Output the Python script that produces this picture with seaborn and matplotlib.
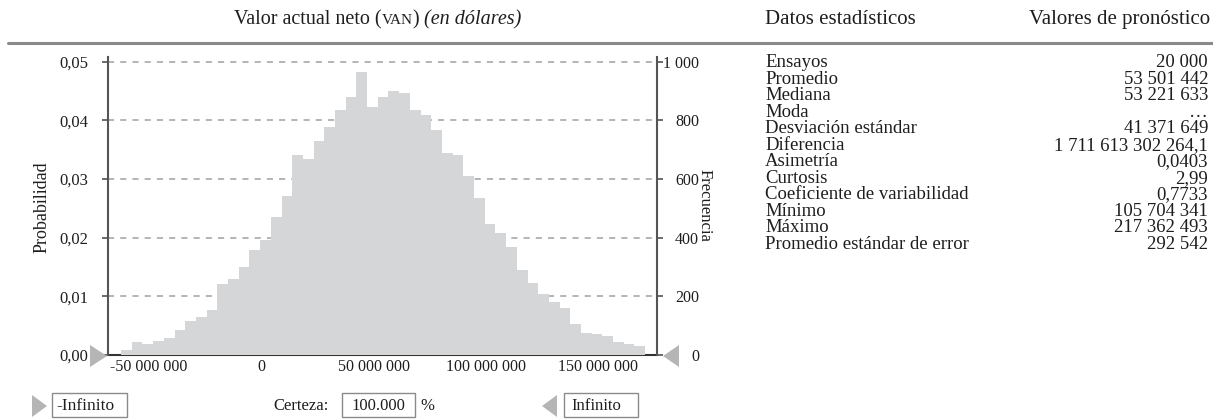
import numpy as np
import pandas as pd
import matplotlib
matplotlib.use("Agg")
import matplotlib.pyplot as plt
import seaborn as sns
from matplotlib.patches import Polygon, Rectangle
from matplotlib.lines import Line2D

# ---------------- data ----------------
frequencies = [18, 45, 37, 49, 58, 84, 116, 130, 153, 241, 259, 300, 359, 392,
               469, 542, 683, 667, 730, 778, 837, 880, 966, 846, 878, 901, 892,
               837, 818, 767, 690, 682, 611, 534, 446, 415, 367, 290, 244, 208,
               179, 161, 107, 76, 70, 65, 44, 37, 31]
bin_start = -62_500_000
bin_end = 170_800_000
trials = 20000

prob_ticks = [0.0, 0.01, 0.02, 0.03, 0.04, 0.05]
prob_labels = ["0,00", "0,01", "0,02", "0,03", "0,04", "0,05"]
freq_ticks = [0, 200, 400, 600, 800, 1000]
freq_labels = ["0", "200", "400", "600", "800", "1 000"]
x_ticks = [-50_000_000, 0, 50_000_000, 100_000_000, 150_000_000]
x_labels = ["-50 000 000", "0", "50 000 000", "100 000 000", "150 000 000"]

stat_names = ["Ensayos", "Promedio", "Mediana", "Moda", "Desviación estándar",
              "Diferencia", "Asimetría", "Curtosis", "Coeficiente de variabilidad",
              "Mínimo", "Máximo", "Promedio estándar de error"]
stat_values = ["20 000", "53 501 442", "53 221 633", "…", "41 371 649",
               "1 711 613 302 264,1", "0,0403", "2,99", "0,7733",
               "105 704 341", "217 362 493", "292 542"]

# ---------------- figure ----------------
sns.set_theme(style="white")
plt.rcParams["font.family"] = ["Liberation Serif", "DejaVu Serif"]
TXT = "#1e1e1e"

W, H = 1213, 420
fig = plt.figure(figsize=(W / 100, H / 100), dpi=100)


def fx(px):
    return px / W


def fy(py):
    return (H - py) / H


ax_l, ax_r, ax_t, ax_b = 108.3, 657.3, 56.7, 355.0
ax = fig.add_axes([fx(ax_l), fy(ax_b), (ax_r - ax_l) / W, (ax_b - ax_t) / H])

edges = np.linspace(bin_start, bin_end, len(frequencies) + 1)
centers = (edges[:-1] + edges[1:]) / 2
df = pd.DataFrame({"valor": centers,
                   "prob": np.array(frequencies) / trials})
sns.histplot(data=df, x="valor", weights="prob", bins=len(frequencies),
             binrange=(bin_start, bin_end), stat="count",
             color="#d5d6d8", alpha=1, linewidth=0, ax=ax, zorder=3)

ymax_prob = 0.05 * (ax_b - ax_t) / (ax_b - 61.7)
ax.set_xlim(-68.2e6, 176.2e6)
ax.set_ylim(0, ymax_prob)
ax.set_yticks(prob_ticks, prob_labels)
ax.set_xticks(x_ticks, x_labels)
ax.set_xlabel("")
ax.set_ylabel("")
ax.yaxis.grid(True, linestyle=(0, (4, 4)), color="#a0a0a0", linewidth=1.1)
ax.xaxis.grid(False)
ax.set_axisbelow(True)
ax.tick_params(axis="y", direction="out", length=4.2, width=1.1, color="#444444",
               pad=10.5, labelsize=12, labelcolor=TXT, left=True)
ax.tick_params(axis="x", length=0, pad=3, labelsize=11.5, labelcolor=TXT)
for s in ["top", "right"]:
    ax.spines[s].set_visible(False)
ax.spines["left"].set_color("#555555")
ax.spines["left"].set_linewidth(1.5)
ax.spines["bottom"].set_color("#333333")
ax.spines["bottom"].set_linewidth(1.5)
ax.spines["bottom"].set_zorder(1)

ax2 = ax.twinx()
ax2.set_ylim(0, ymax_prob * trials)
ax2.set_yticks(freq_ticks, freq_labels)
ax2.tick_params(axis="y", direction="out", length=4.2, width=1.1, color="#444444",
                pad=26, labelsize=11.5, labelcolor=TXT, right=True)
for lab in ax2.get_yticklabels():
    lab.set_horizontalalignment("right")
for s in ["top", "left", "bottom"]:
    ax2.spines[s].set_visible(False)
ax2.spines["right"].set_color("#555555")
ax2.spines["right"].set_linewidth(1.5)
ax2.grid(False)

# axis titles
fig.text(fx(42), fy(207), "Probabilidad", rotation=90, ha="center", va="center",
         fontsize=13, color=TXT)
fig.text(fx(705), fy(205), "Frecuencia", rotation=270, ha="center", va="center",
         fontsize=12, color=TXT)

# title with small caps "VAN"
fig.canvas.draw()
rend = fig.canvas.get_renderer()
pieces = [("Valor actual neto (", 14.5, "normal"),
          ("VAN", 11.0, "normal"),
          (") ", 14.5, "normal"),
          ("(en dólares)", 14.5, "italic")]
objs = []
for s, fs, st in pieces:
    t = fig.text(0, fy(24), s, fontsize=fs, style=st, ha="left", va="baseline",
                 color=TXT)
    objs.append(t)
fig.canvas.draw()
widths = [o.get_window_extent(rend).width for o in objs]
total = sum(widths)
x0 = 378 - total / 2
for o, w in zip(objs, widths):
    o.set_x(fx(x0))
    x0 += w

# header line
fig.add_artist(Line2D([fx(8), fx(1213)], [fy(43), fy(43)], color="#8a8a8a",
                      linewidth=2.2))

# stats table
fig.text(fx(765), fy(24), "Datos estadísticos", fontsize=15, ha="left",
         va="baseline", color=TXT)
fig.text(fx(1210), fy(24), "Valores de pronóstico", fontsize=15, ha="right",
         va="baseline", color=TXT)
for i, (n, v) in enumerate(zip(stat_names, stat_values)):
    yb = 67 + i * 16.55
    fig.text(fx(765), fy(yb), n, fontsize=13.5, ha="left", va="baseline",
             color=TXT)
    fig.text(fx(1208), fy(yb), v, fontsize=13.5, ha="right", va="baseline",
             color=TXT)

# triangles and control boxes
TRI = "#b5b5b5"


def tri(pts):
    fig.add_artist(Polygon([(fx(a), fy(b)) for a, b in pts], closed=True,
                           facecolor=TRI, edgecolor="none",
                           transform=fig.transFigure))


tri([(90, 345), (107, 356), (90, 367)])
tri([(679, 345), (663, 356), (679, 367)])
tri([(32, 395), (47, 406), (32, 417)])
tri([(557, 395), (542, 406), (557, 417)])


def box(x1, x2, label, tx, fs):
    fig.add_artist(Rectangle((fx(x1), fy(417.3)), (x2 - x1) / W, 24 / H,
                             facecolor="white", edgecolor="#8a8a8a",
                             linewidth=1.0, transform=fig.transFigure))
    fig.text(fx(tx), fy(405.5), label, fontsize=fs, ha="left", va="center",
             color=TXT)


box(51.7, 127.3, "-Infinito", 56.5, 12.5)
box(341.7, 415, "100.000", 351, 12)
box(564, 638.3, "Infinito", 571.5, 12)
fig.text(fx(273), fy(405.5), "Certeza:", fontsize=12, ha="left", va="center",
         color=TXT)
fig.text(fx(420), fy(405.5), "%", fontsize=12, ha="left", va="center", color=TXT)

fig.savefig("out.png", dpi=100, facecolor="white")
